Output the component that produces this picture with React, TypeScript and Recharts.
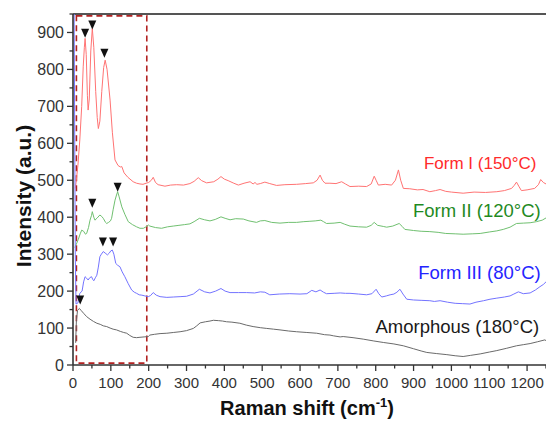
import React from "react";
import {
  ComposedChart,
  Line,
  Scatter,
  XAxis,
  YAxis,
  ReferenceArea,
  ReferenceLine,
  ReferenceDot,
  Label,
} from "recharts";

type P = [number, number];

const formI: P[] = [
  [6, 478], [8, 493], [13, 540], [18, 609], [23, 700], [27, 807], [30, 860], [32, 884], [35, 840],
  [38, 730], [40, 690], [43, 720], [47, 850], [51, 911], [55, 860], [60, 740], [64, 670], [67, 640],
  [71, 660], [76, 740], [81, 805], [85, 825], [90, 800], [98, 717], [104, 630], [111, 555], [119, 540],
  [125, 536], [129, 537], [135, 520], [145, 508], [159, 496], [168, 492], [177, 490], [185, 489],
  [193, 492], [200, 494], [207, 500], [212, 508], [218, 494], [225, 488], [243, 484], [258, 487],
  [274, 488], [292, 487], [309, 491], [320, 497], [331, 507], [340, 499], [353, 493], [372, 496],
  [383, 503], [391, 510], [400, 503], [410, 499], [425, 492], [437, 487], [452, 492], [468, 496],
  [476, 490], [481, 494], [486, 489], [495, 491], [507, 495], [520, 491], [538, 486], [560, 488],
  [591, 489], [615, 491], [635, 493], [645, 500], [653, 514], [659, 500], [666, 492], [679, 492],
  [695, 491], [710, 496], [720, 490], [732, 483], [755, 484], [776, 483], [788, 490], [796, 511],
  [801, 500], [807, 487], [825, 489], [842, 487], [852, 500], [860, 528], [866, 500], [873, 478],
  [890, 477], [910, 474], [925, 475], [943, 469], [958, 472], [970, 475], [985, 470], [1000, 468],
  [1031, 465], [1060, 468], [1090, 467], [1120, 469], [1140, 472], [1159, 478], [1166, 486],
  [1172, 495], [1178, 484], [1185, 472], [1200, 474], [1220, 478], [1230, 488], [1236, 502],
  [1243, 494], [1250, 490],
];

const formII: P[] = [
  [5, 318], [8, 325], [14, 340], [19, 355], [23, 365], [28, 362], [33, 354], [36, 356], [41, 372],
  [45, 392], [49, 405], [51, 415], [55, 400], [58, 392], [64, 398], [71, 406], [76, 402], [80, 397],
  [86, 386], [89, 383], [94, 386], [99, 390], [102, 397], [106, 420], [111, 446], [115, 460],
  [118, 469], [122, 455], [129, 428], [137, 408], [146, 388], [157, 380], [168, 374], [177, 370],
  [186, 370], [193, 374], [199, 379], [203, 376], [218, 372], [234, 370], [250, 374], [265, 376],
  [280, 378], [295, 380], [309, 382], [320, 388], [334, 397], [348, 393], [362, 390], [376, 394],
  [391, 401], [402, 397], [415, 393], [430, 396], [450, 395], [465, 390], [485, 386], [495, 390],
  [507, 391], [525, 386], [547, 384], [570, 386], [591, 386], [610, 388], [626, 389], [640, 390],
  [655, 392], [662, 388], [670, 383], [690, 384], [706, 386], [718, 381], [732, 376], [755, 374],
  [776, 373], [788, 378], [796, 386], [805, 378], [820, 375], [829, 373], [845, 376], [862, 383],
  [870, 375], [877, 367], [900, 364], [920, 362], [943, 361], [965, 359], [985, 356], [1010, 355],
  [1031, 354], [1055, 355], [1076, 356], [1100, 360], [1120, 363], [1137, 367], [1155, 373],
  [1172, 383], [1190, 384], [1208, 385], [1225, 388], [1240, 392], [1250, 398],
];

const formIII: P[] = [
  [3, 950], [6, 300], [8, 165], [13, 168], [18, 194], [24, 200], [28, 225], [32, 239], [36, 235],
  [40, 230], [44, 236], [49, 239], [52, 232], [55, 228], [59, 236], [63, 243], [67, 265], [71, 293],
  [75, 300], [80, 307], [85, 303], [91, 298], [96, 303], [100, 309], [104, 311], [108, 300],
  [113, 275], [118, 270], [124, 266], [130, 252], [137, 239], [146, 220], [155, 203], [162, 197],
  [168, 194], [175, 190], [182, 189], [190, 187], [199, 185], [205, 188], [212, 196], [220, 189],
  [230, 185], [248, 183], [265, 184], [283, 185], [300, 186], [318, 192], [334, 205], [348, 198],
  [362, 195], [377, 200], [391, 207], [402, 200], [415, 196], [437, 196], [459, 196], [480, 195],
  [495, 198], [507, 197], [520, 190], [545, 192], [573, 193], [600, 192], [618, 193], [631, 202],
  [642, 198], [653, 203], [662, 197], [670, 193], [690, 194], [706, 195], [720, 194], [732, 194],
  [755, 192], [776, 190], [790, 193], [801, 205], [808, 193], [816, 184], [828, 187], [838, 190],
  [848, 192], [856, 197], [864, 205], [872, 192], [882, 178], [900, 176], [920, 175], [943, 174],
  [955, 172], [970, 174], [990, 170], [1010, 167], [1030, 166], [1049, 165], [1065, 170],
  [1085, 174], [1102, 178], [1120, 181], [1140, 184], [1155, 187], [1165, 192], [1177, 198],
  [1190, 193], [1208, 195], [1222, 203], [1234, 212], [1243, 218], [1250, 225],
];

const amorphous: P[] = [
  [7, 60], [9, 120], [12, 148], [17, 153], [22, 147], [28, 140], [36, 131], [45, 124], [54, 118],
  [63, 113], [72, 110], [80, 106], [89, 104], [98, 100], [106, 97], [115, 95], [125, 91], [134, 88],
  [142, 86], [150, 80], [159, 75], [168, 74], [177, 75], [188, 76], [199, 77], [203, 81], [215, 83],
  [230, 85], [248, 86], [265, 88], [283, 90], [300, 93], [318, 99], [327, 106], [336, 114],
  [350, 117], [362, 119], [371, 121], [385, 120], [395, 119], [406, 117], [420, 116], [441, 113],
  [458, 108], [476, 104], [495, 101], [512, 99], [530, 97], [547, 95], [570, 92], [591, 90],
  [618, 88], [644, 86], [665, 82], [679, 81], [688, 79], [706, 76], [714, 77], [740, 74], [767, 70],
  [795, 65], [820, 61], [848, 57], [873, 52], [900, 44], [920, 38], [935, 34], [960, 31], [988, 28],
  [1010, 25], [1031, 23], [1050, 26], [1076, 30], [1100, 35], [1120, 39], [1145, 45], [1172, 52],
  [1190, 55], [1208, 58], [1228, 63], [1247, 68], [1250, 66],
];

const formIPeaks: P[] = [[32, 898], [51, 920], [83, 844]];
const formIIPeaks: P[] = [[51, 438], [118, 481]];
const formIIIPeaks: P[] = [[79, 333], [106, 333]];
const amorphousPeaks: P[] = [[19, 176]];

const xTicks: number[] = Array.from({ length: 26 }, (_, i) => i * 50);
const yTicks: number[] = Array.from({ length: 20 }, (_, i) => i * 50);

const seriesLabels = [
  { name: "Form I (150°C)", x: 1225, y: 548, color: "#ff2b2b", size: 17 },
  { name: "Form II (120°C)", x: 1236, y: 417, color: "#1f8a1f", size: 18.5 },
  { name: "Form III (80°C)", x: 1236, y: 251, color: "#2424ff", size: 18.5 },
  { name: "Amorphous (180°C)", x: 1232, y: 105, color: "#1a1a1a", size: 18.5 },
];

const toObj = (arr: P[]) => arr.map(([x, y]) => ({ x, y }));

const FONT = "'Liberation Sans', Arial, sans-serif";

const XTick = (props: any) => {
  const { x, y, payload } = props;
  const v = payload.value as number;
  const major = v % 100 === 0;
  const axisY = y - 12;
  return (
    <g>
      <line x1={x} x2={x} y1={axisY} y2={axisY + (major ? 6 : 3.5)} stroke="#333" strokeWidth={1.3} />
      {major && v <= 1200 ? (
        <text x={x} y={y} dy="0.71em" textAnchor="middle" fontSize={15} fill="#333" fontFamily={FONT}>
          {v}
        </text>
      ) : null}
    </g>
  );
};

const YTick = (props: any) => {
  const { x, y, payload } = props;
  const v = payload.value as number;
  const major = v % 100 === 0;
  const axisX = x + 9;
  return (
    <g>
      <line x1={axisX - (major ? 6 : 3.5)} x2={axisX} y1={y} y2={y} stroke="#333" strokeWidth={1.3} />
      {major ? (
        <text x={x} y={y} dy="0.36em" textAnchor="end" fontSize={16} fill="#333" fontFamily={FONT}>
          {v}
        </text>
      ) : null}
    </g>
  );
};

const Triangle = (props: any) => {
  const { cx, cy } = props;
  if (cx == null || cy == null) return null;
  const w = 4;
  const h = 9;
  return (
    <path d={`M${cx - w},${cy - h / 2} L${cx + w},${cy - h / 2} L${cx},${cy + h / 2} Z`} fill="#111" />
  );
};

const YLabel = () => (
  <text
    x={23}
    y={196}
    transform="rotate(-90 23 196)"
    textAnchor="middle"
    dy="0.36em"
    fontSize={21}
    fontWeight="bold"
    fill="#111"
    fontFamily={FONT}
  >
    Intensity (a.u.)
  </text>
);

const XLabel = () => (
  <text x={307} y={415} textAnchor="middle" fontSize={20} fontWeight="bold" fill="#111" fontFamily={FONT}>
    <tspan>Raman shift (cm</tspan>
    <tspan dy={-8} fontSize={13}>-1</tspan>
    <tspan dy={8}>)</tspan>
  </text>
);

const lines = [
  { key: "formI", data: formI, color: "#ff7373" },
  { key: "formII", data: formII, color: "#70c070" },
  { key: "formIII", data: formIII, color: "#7373ff" },
  { key: "amorphous", data: amorphous, color: "#6a6a6a" },
];

const peaks = [formIPeaks, formIIPeaks, formIIIPeaks, amorphousPeaks];

export default function App() {
  return (
    <div style={{ position: "absolute", left: 0, top: 0, background: "#fff" }}>
      <ComposedChart
        width={546}
        height={426}
        margin={{ top: 14, right: 0, bottom: 0, left: 0 }}
        style={{ fontFamily: FONT }}
      >
        <XAxis
          dataKey="x"
          type="number"
          domain={[0, 1250]}
          ticks={xTicks}
          interval={0}
          height={61}
          tickSize={0}
          tickMargin={12}
          tick={<XTick />}
          tickLine={false}
          axisLine={{ stroke: "#333", strokeWidth: 1.6 }}
          allowDataOverflow
        >
          <Label content={<XLabel />} />
        </XAxis>
        <YAxis
          dataKey="y"
          type="number"
          domain={[0, 950]}
          ticks={yTicks}
          interval={0}
          width={73}
          tickSize={0}
          tickMargin={9}
          tick={<YTick />}
          tickLine={false}
          axisLine={{ stroke: "#333", strokeWidth: 1.6 }}
          allowDataOverflow
        >
          <Label content={<YLabel />} />
        </YAxis>
        <ReferenceLine y={950} stroke="#555" strokeWidth={2} ifOverflow="visible" />
        <ReferenceArea
          x1={9}
          x2={195}
          y1={5}
          y2={945}
          fill="none"
          fillOpacity={0}
          stroke="#b22222"
          strokeWidth={1.6}
          strokeDasharray="6 4"
        />
        {lines.map((l) => (
          <Line
            key={l.key}
            data={toObj(l.data)}
            dataKey="y"
            type="linear"
            stroke={l.color}
            strokeWidth={1}
            dot={false}
            activeDot={false}
            isAnimationActive={false}
          />
        ))}
        {peaks.map((p, i) => (
          <Scatter
            key={"peaks" + i}
            data={toObj(p)}
            dataKey="y"
            shape={<Triangle />}
            isAnimationActive={false}
          />
        ))}
        {seriesLabels.map((s) => (
          <ReferenceDot
            key={s.name}
            x={s.x}
            y={s.y}
            r={0}
            fill="none"
            stroke="none"
            label={{
              value: s.name,
              position: "left",
              offset: 0,
              fill: s.color,
              fontSize: s.size,
              fontFamily: FONT,
            }}
          />
        ))}
      </ComposedChart>
    </div>
  );
}
